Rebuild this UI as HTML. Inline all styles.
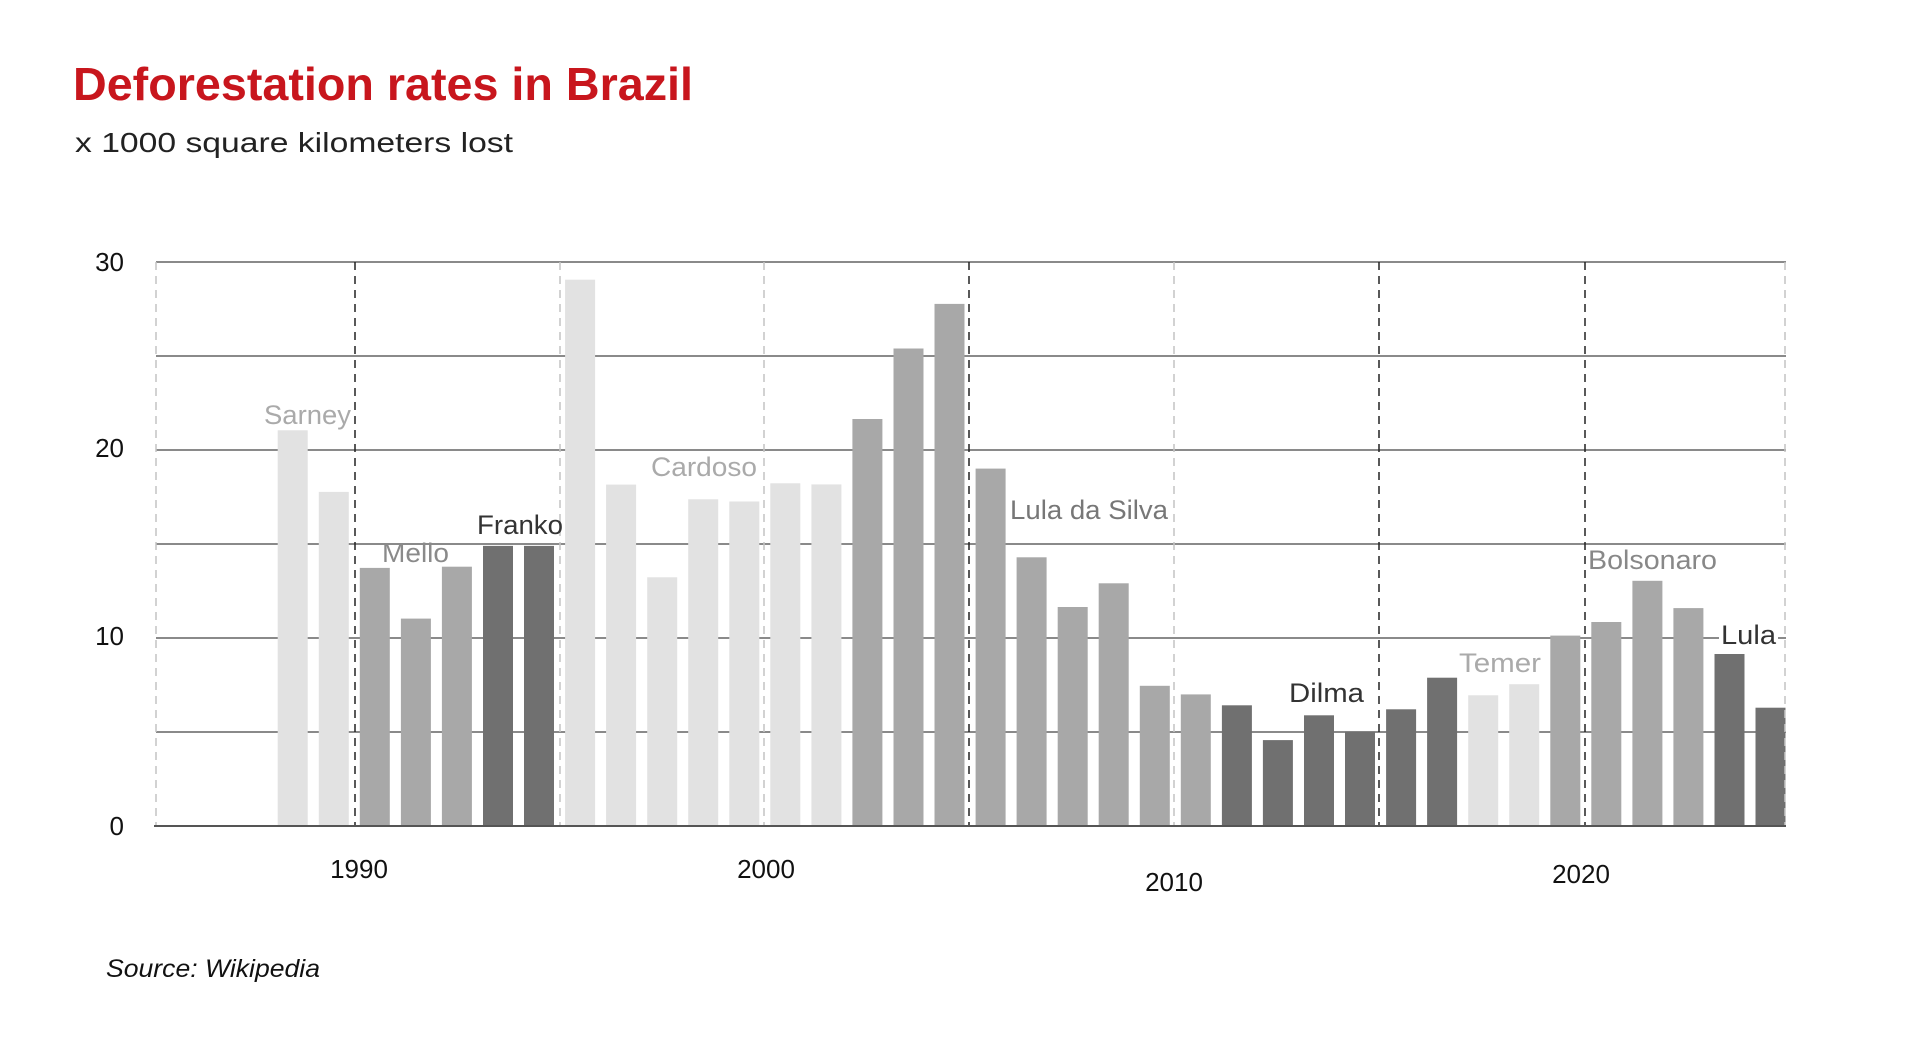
<!DOCTYPE html>
<html><head><meta charset="utf-8"><style>html,body{margin:0;padding:0;background:#fff}svg{display:block}</style></head>
<body>
<svg width="1920" height="1051" viewBox="0 0 1920 1051" xmlns="http://www.w3.org/2000/svg" font-family="Liberation Sans, sans-serif">
<text x="73" y="100" font-size="46" font-weight="bold" fill="#c8161d" textLength="620" lengthAdjust="spacingAndGlyphs">Deforestation rates in Brazil</text>
<text x="75" y="152" font-size="28" fill="#222" textLength="438" lengthAdjust="spacingAndGlyphs">x 1000 square kilometers lost</text>
<g stroke="#8a8a8a" stroke-width="2">
<line x1="156" x2="1786" y1="262" y2="262"/>
<line x1="156" x2="1786" y1="356" y2="356"/>
<line x1="156" x2="1786" y1="450" y2="450"/>
<line x1="156" x2="1786" y1="544" y2="544"/>
<line x1="156" x2="1786" y1="638" y2="638"/>
<line x1="156" x2="1786" y1="732" y2="732"/>
</g>
<g>
<rect x="277.7" y="430.3" width="30" height="395.7" fill="#e2e2e2"/>
<rect x="318.8" y="491.9" width="30" height="334.1" fill="#e2e2e2"/>
<rect x="359.8" y="567.9" width="30" height="258.1" fill="#a8a8a8"/>
<rect x="400.9" y="618.6" width="30" height="207.4" fill="#a8a8a8"/>
<rect x="441.9" y="566.7" width="30" height="259.3" fill="#a8a8a8"/>
<rect x="483.0" y="545.9" width="30" height="280.1" fill="#707070"/>
<rect x="524.0" y="545.9" width="30" height="280.1" fill="#707070"/>
<rect x="565.1" y="279.7" width="30" height="546.3" fill="#e2e2e2"/>
<rect x="606.1" y="484.6" width="30" height="341.4" fill="#e2e2e2"/>
<rect x="647.2" y="577.3" width="30" height="248.7" fill="#e2e2e2"/>
<rect x="688.2" y="499.3" width="30" height="326.7" fill="#e2e2e2"/>
<rect x="729.3" y="501.5" width="30" height="324.5" fill="#e2e2e2"/>
<rect x="770.3" y="483.3" width="30" height="342.7" fill="#e2e2e2"/>
<rect x="811.4" y="484.4" width="30" height="341.6" fill="#e2e2e2"/>
<rect x="852.4" y="419.0" width="30" height="407.0" fill="#a8a8a8"/>
<rect x="893.5" y="348.5" width="30" height="477.5" fill="#a8a8a8"/>
<rect x="934.5" y="303.9" width="30" height="522.1" fill="#a8a8a8"/>
<rect x="975.6" y="468.6" width="30" height="357.4" fill="#a8a8a8"/>
<rect x="1016.6" y="557.3" width="30" height="268.7" fill="#a8a8a8"/>
<rect x="1057.7" y="607.0" width="30" height="219.0" fill="#a8a8a8"/>
<rect x="1098.7" y="583.3" width="30" height="242.7" fill="#a8a8a8"/>
<rect x="1139.8" y="685.8" width="30" height="140.2" fill="#a8a8a8"/>
<rect x="1180.8" y="694.4" width="30" height="131.6" fill="#a8a8a8"/>
<rect x="1221.9" y="705.3" width="30" height="120.7" fill="#707070"/>
<rect x="1262.9" y="740.1" width="30" height="85.9" fill="#707070"/>
<rect x="1304.0" y="715.3" width="30" height="110.7" fill="#707070"/>
<rect x="1345.0" y="731.8" width="30" height="94.2" fill="#707070"/>
<rect x="1386.1" y="709.3" width="30" height="116.7" fill="#707070"/>
<rect x="1427.1" y="677.7" width="30" height="148.3" fill="#707070"/>
<rect x="1468.2" y="695.3" width="30" height="130.7" fill="#e2e2e2"/>
<rect x="1509.2" y="684.2" width="30" height="141.8" fill="#e2e2e2"/>
<rect x="1550.3" y="635.6" width="30" height="190.4" fill="#a8a8a8"/>
<rect x="1591.3" y="622.0" width="30" height="204.0" fill="#a8a8a8"/>
<rect x="1632.4" y="580.8" width="30" height="245.2" fill="#a8a8a8"/>
<rect x="1673.4" y="608.1" width="30" height="217.9" fill="#a8a8a8"/>
<rect x="1714.5" y="654.0" width="30" height="172.0" fill="#707070"/>
<rect x="1755.5" y="707.7" width="30" height="118.3" fill="#707070"/>
</g>
<g stroke-width="1.5" stroke-dasharray="8,6">
<g stroke="#c4c4c4"><line x1="156" x2="156" y1="262" y2="826"/><line x1="560" x2="560" y1="262" y2="826"/><line x1="764" x2="764" y1="262" y2="826"/><line x1="1174" x2="1174" y1="262" y2="826"/><line x1="1785" x2="1785" y1="262" y2="826"/></g>
<g stroke="#222"><line x1="355" x2="355" y1="262" y2="826"/><line x1="969" x2="969" y1="262" y2="826"/><line x1="1379" x2="1379" y1="262" y2="826"/><line x1="1585" x2="1585" y1="262" y2="826"/></g>
</g>
<line x1="154" x2="1786" y1="826" y2="826" stroke="#555" stroke-width="2"/>
<g font-size="26" fill="#111" text-anchor="end">
<text x="124" y="271">30</text><text x="124" y="457">20</text><text x="124" y="645">10</text><text x="124" y="835">0</text>
</g>
<g font-size="26" fill="#111" text-anchor="middle">
<text x="359" y="878">1990</text><text x="766" y="878">2000</text><text x="1174" y="891">2010</text><text x="1581" y="883">2020</text>
</g>
<g font-size="27">
<text x="264" y="424" fill="#aaa" textLength="87" lengthAdjust="spacingAndGlyphs">Sarney</text>
<text x="382" y="562" fill="#8a8a8a" textLength="67" lengthAdjust="spacingAndGlyphs">Mello</text>
<text x="477" y="534" fill="#333" textLength="86" lengthAdjust="spacingAndGlyphs">Franko</text>
<text x="651" y="476" fill="#aaa" textLength="106" lengthAdjust="spacingAndGlyphs">Cardoso</text>
<text x="1010" y="519" fill="#777" textLength="158" lengthAdjust="spacingAndGlyphs">Lula da Silva</text>
<text x="1289" y="702" fill="#333" textLength="75" lengthAdjust="spacingAndGlyphs">Dilma</text>
<text x="1459" y="672" fill="#aaa" textLength="82" lengthAdjust="spacingAndGlyphs">Temer</text>
<text x="1588" y="569" fill="#888" textLength="129" lengthAdjust="spacingAndGlyphs">Bolsonaro</text>
<rect x="1719" y="622" width="59" height="28" fill="#fff"/>
<text x="1721" y="644" fill="#333" textLength="55" lengthAdjust="spacingAndGlyphs">Lula</text>
</g>
<text x="106" y="977" font-size="25" font-style="italic" fill="#111" textLength="214" lengthAdjust="spacingAndGlyphs">Source: Wikipedia</text>
</svg>
</body></html>
